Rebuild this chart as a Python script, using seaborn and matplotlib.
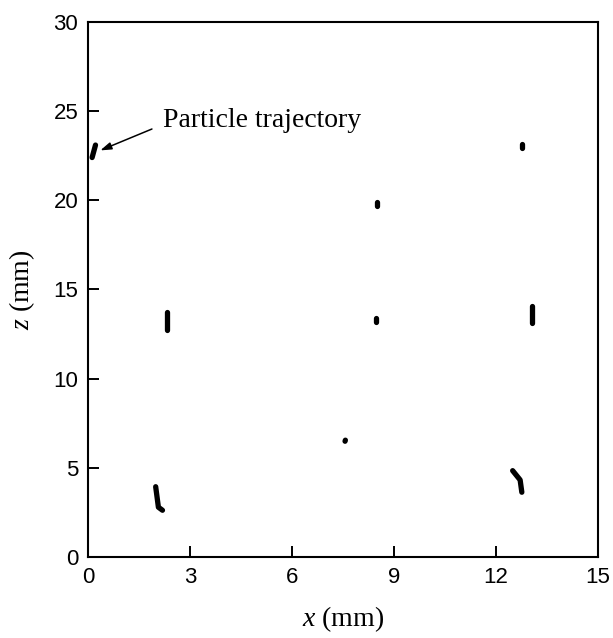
import numpy as np
import pandas as pd
import matplotlib
matplotlib.use("Agg")
import matplotlib.pyplot as plt
import seaborn as sns

# Tracked particle paths, positions in mm
particle_ids = [1, 1,
                2, 2,
                3, 3, 3,
                4, 4, 4,
                5, 5,
                6, 6,
                7, 7,
                8, 8,
                9, 9]
x_mm = [0.12, 0.22,
        2.31, 2.31,
        1.99, 2.07, 2.19,
        12.49, 12.71, 12.76,
        13.07, 13.07,
        8.49, 8.49,
        7.56, 7.57,
        12.77, 12.77,
        8.47, 8.47]
z_mm = [22.40, 23.10,
        12.75, 13.75,
        3.94, 2.79, 2.62,
        4.84, 4.32, 3.63,
        13.10, 14.05,
        19.68, 19.92,
        6.49, 6.55,
        22.95, 23.18,
        13.17, 13.40]

x_ticks = [0, 3, 6, 9, 12, 15]
z_ticks = [0, 5, 10, 15, 20, 25, 30]

df = pd.DataFrame({"particle": particle_ids, "x": x_mm, "z": z_mm})

sns.set_theme(style="white")
plt.rcParams["font.family"] = ["Liberation Sans", "DejaVu Sans"]
plt.rcParams["mathtext.fontset"] = "custom"
plt.rcParams["mathtext.rm"] = "Liberation Serif"
plt.rcParams["mathtext.it"] = "Liberation Serif:italic"

fig = plt.figure(figsize=(6.13, 6.38), dpi=100)
ax = fig.add_axes([0.1436, 0.127, 0.8319, 0.8385])

sns.lineplot(data=df, x="x", y="z", units="particle", estimator=None,
             sort=False, color="black", linewidth=3.8, ax=ax,
             solid_capstyle="round", solid_joinstyle="round", legend=False)

ax.set_xlim(0, 15)
ax.set_ylim(0, 30)
ax.set_xticks(x_ticks)
ax.set_yticks(z_ticks)
ax.set_xticklabels([str(t) for t in x_ticks], fontsize=16)
ax.set_yticklabels([str(t) for t in z_ticks], fontsize=16)
ax.tick_params(axis="both", direction="in", length=8, width=1.4,
               color="black", labelcolor="black", pad=7,
               bottom=True, left=True, top=False, right=False)

for side in ["left", "right", "top", "bottom"]:
    ax.spines[side].set_visible(True)
    ax.spines[side].set_color("black")
    ax.spines[side].set_linewidth(1.5)

ax.set_xlabel("$x$ (mm)", fontsize=20, family="Liberation Serif",
              color="black", labelpad=12)
ax.set_ylabel("$z$ (mm)", fontsize=20, family="Liberation Serif",
              color="black", labelpad=12)

# Label with a pointer to the trajectory near the left wall
ax.text(2.2, 24.5, "Particle trajectory", fontsize=20,
        family="Liberation Serif", color="black", va="center", ha="left")
ax.annotate("", xy=(0.36, 22.8), xytext=(1.88, 24.0),
            arrowprops=dict(arrowstyle="-|>,head_length=0.55,head_width=0.18",
                            color="black", lw=1.1, shrinkA=0, shrinkB=0))

ax.grid(False)
fig.savefig("out.png", dpi=100, facecolor="white")
